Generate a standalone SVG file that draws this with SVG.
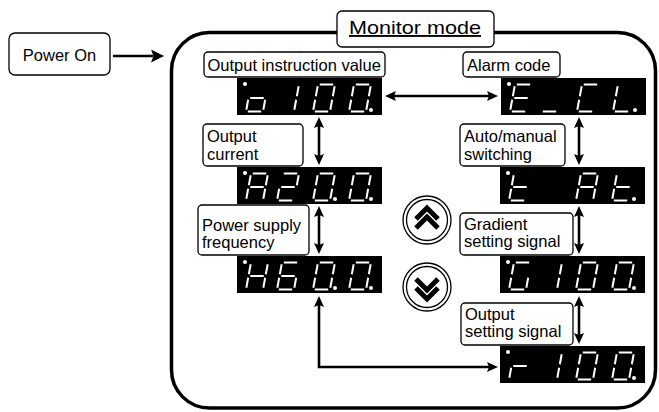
<svg xmlns="http://www.w3.org/2000/svg" xmlns:xlink="http://www.w3.org/1999/xlink" width="659" height="412" viewBox="0 0 659 412">
<style>
.box{fill:#fff;stroke:#000;stroke-width:1.3}
.lbl{font-family:"Liberation Sans",Arial,sans-serif;font-size:16.5px;fill:#000}
.disp{fill:#000}
.seg{fill:none;stroke:#fff;stroke-width:2}
.dot{fill:#fff}
.conn{fill:none;stroke:#000;stroke-width:2.6}
.ring{fill:#fff;stroke:#000;stroke-width:1.3}
.chev{fill:none;stroke:#000;stroke-width:5;stroke-linejoin:miter}
</style>
<defs>
<marker id="ah" viewBox="0 0 11 10" refX="2" refY="5" markerWidth="11" markerHeight="10" markerUnits="userSpaceOnUse" orient="auto-start-reverse">
<path d="M0,0 L11,5 L0,10 L2,5Z" fill="#000"/>
</marker>
<marker id="ahb" viewBox="0 0 13 13" refX="2" refY="6.5" markerWidth="13" markerHeight="13" markerUnits="userSpaceOnUse" orient="auto">
<path d="M0,0 L13,6.5 L0,13 L2.5,6.5Z" fill="#000"/>
</marker>
<path id="c-o" d="M19.17 15.3L17.33 25.2M1.8 27H15.2M2.17 15.3L0.33 25.2M4.3 13.5H17.7"/>
<path id="c-1" d="M21.67 1.8L19.83 11.7M19.17 15.3L17.33 25.2"/>
<path id="c-0" d="M6.8 0H20.2M21.67 1.8L19.83 11.7M19.17 15.3L17.33 25.2M1.8 27H15.2M2.17 15.3L0.33 25.2M4.67 1.8L2.83 11.7"/>
<path id="c-E" d="M6.8 0H20.2M1.8 27H15.2M2.17 15.3L0.33 25.2M4.67 1.8L2.83 11.7M4.3 13.5H17.7"/>
<path id="c-_" d="M1.8 27H15.2"/>
<path id="c-C" d="M6.8 0H20.2M1.8 27H15.2M2.17 15.3L0.33 25.2M4.67 1.8L2.83 11.7"/>
<path id="c-L" d="M1.8 27H15.2M2.17 15.3L0.33 25.2M4.67 1.8L2.83 11.7"/>
<path id="c-A" d="M6.8 0H20.2M21.67 1.8L19.83 11.7M19.17 15.3L17.33 25.2M2.17 15.3L0.33 25.2M4.67 1.8L2.83 11.7M4.3 13.5H17.7"/>
<path id="c-2" d="M6.8 0H20.2M21.67 1.8L19.83 11.7M4.3 13.5H17.7M2.17 15.3L0.33 25.2M1.8 27H15.2"/>
<path id="c-H" d="M21.67 1.8L19.83 11.7M19.17 15.3L17.33 25.2M2.17 15.3L0.33 25.2M4.67 1.8L2.83 11.7M4.3 13.5H17.7"/>
<path id="c-6" d="M6.8 0H20.2M19.17 15.3L17.33 25.2M1.8 27H15.2M2.17 15.3L0.33 25.2M4.67 1.8L2.83 11.7M4.3 13.5H17.7"/>
<path id="c-t" d="M1.8 27H15.2M2.17 15.3L0.33 25.2M4.67 1.8L2.83 11.7M4.3 13.5H17.7"/>
<path id="c-G" d="M6.8 0H20.2M19.17 15.3L17.33 25.2M1.8 27H15.2M2.17 15.3L0.33 25.2M4.67 1.8L2.83 11.7"/>
<path id="c-r" d="M2.17 15.3L0.33 25.2M4.3 13.5H17.7"/>
</defs>

<!-- monitor frame -->
<rect x="171.5" y="32.5" width="484" height="375.5" rx="38" fill="none" stroke="#000" stroke-width="3.5"/>

<g id="connectors">
<line class="conn" x1="113" y1="56" x2="153" y2="56" stroke-width="3.5" marker-end="url(#ahb)"/>
<line class="conn" x1="394" y1="96" x2="489" y2="96" marker-start="url(#ah)" marker-end="url(#ah)"/>
<line class="conn" x1="319" y1="126" x2="319" y2="156" marker-start="url(#ah)" marker-end="url(#ah)"/>
<line class="conn" x1="319" y1="215" x2="319" y2="245" marker-start="url(#ah)" marker-end="url(#ah)"/>
<line class="conn" x1="579" y1="126" x2="579" y2="156" marker-start="url(#ah)" marker-end="url(#ah)"/>
<line class="conn" x1="579" y1="215" x2="579" y2="245" marker-start="url(#ah)" marker-end="url(#ah)"/>
<line class="conn" x1="579" y1="305" x2="579" y2="335" marker-start="url(#ah)" marker-end="url(#ah)"/>
<path class="conn" d="M319 305V367H489" marker-start="url(#ah)" marker-end="url(#ah)"/>
</g>

<g id="power-on">
<rect class="box" x="9" y="33" width="101" height="42" rx="6"/>
<text class="lbl" x="59.5" y="61" text-anchor="middle">Power On</text>
</g>

<g id="monitor-mode">
<rect class="box" x="337" y="11" width="157" height="36" rx="5"/>
<text class="lbl" x="415" y="34" text-anchor="middle" style="font-size:19px" textLength="132" lengthAdjust="spacingAndGlyphs" text-decoration="underline">Monitor mode</text>
</g>

<g id="lbl-output-instruction">
<rect class="box" x="204" y="52" width="181" height="25" rx="4"/>
<text class="lbl" x="207.5" y="71">Output instruction value</text>
</g>
<g id="lbl-alarm">
<rect class="box" x="463" y="52" width="97" height="25" rx="4"/>
<text class="lbl" x="467" y="71">Alarm code</text>
</g>
<g id="lbl-output-current">
<rect class="box" x="203" y="124" width="100" height="42" rx="4"/>
<text class="lbl" x="207" y="142">Output</text>
<text class="lbl" x="207" y="160">current</text>
</g>
<g id="lbl-power-freq">
<rect class="box" x="198" y="205" width="111" height="50" rx="4"/>
<text class="lbl" x="202" y="231">Power supply</text>
<text class="lbl" x="202" y="248">frequency</text>
</g>
<g id="lbl-auto-manual">
<rect class="box" x="460" y="124" width="105" height="42" rx="4"/>
<text class="lbl" x="464" y="142">Auto/manual</text>
<text class="lbl" x="464" y="160">switching</text>
</g>
<g id="lbl-gradient">
<rect class="box" x="460" y="213" width="113" height="42" rx="4"/>
<text class="lbl" x="464" y="230">Gradient</text>
<text class="lbl" x="464" y="247">setting signal</text>
</g>
<g id="lbl-output-setting">
<rect class="box" x="461" y="303" width="112" height="42" rx="4"/>
<text class="lbl" x="465" y="320">Output</text>
<text class="lbl" x="465" y="337">setting signal</text>
</g>

<g id="disp-o100">
<rect class="disp" x="237" y="78" width="145" height="37"/>
<circle class="dot" cx="245" cy="84" r="2"/>
<g class="seg">
<use xlink:href="#c-o" href="#c-o" x="246" y="84.5"/>
<use xlink:href="#c-1" href="#c-1" x="277" y="84.5"/>
<use xlink:href="#c-0" href="#c-0" x="313" y="84.5"/>
<use xlink:href="#c-0" href="#c-0" x="349" y="84.5"/>
</g>
<circle class="dot" cx="371" cy="110" r="2"/>
</g>

<g id="disp-ecl">
<rect class="disp" x="501" y="78" width="145" height="37"/>
<circle class="dot" cx="509" cy="84" r="2"/>
<g class="seg">
<use xlink:href="#c-E" href="#c-E" x="510" y="84.5"/>
<use xlink:href="#c-_" href="#c-_" x="541" y="84.5"/>
<use xlink:href="#c-C" href="#c-C" x="577" y="84.5"/>
<use xlink:href="#c-L" href="#c-L" x="613" y="84.5"/>
</g>
<circle class="dot" cx="635" cy="110" r="2"/>
</g>

<g id="disp-a200">
<rect class="disp" x="237" y="167" width="145" height="37"/>
<circle class="dot" cx="245" cy="173" r="2"/>
<g class="seg">
<use xlink:href="#c-A" href="#c-A" x="246" y="173.5"/>
<use xlink:href="#c-2" href="#c-2" x="277" y="173.5"/>
<use xlink:href="#c-0" href="#c-0" x="313" y="173.5"/>
<use xlink:href="#c-0" href="#c-0" x="349" y="173.5"/>
</g>
<circle class="dot" cx="335" cy="199" r="2"/>
<circle class="dot" cx="371" cy="199" r="2"/>
</g>

<g id="disp-h600">
<rect class="disp" x="237" y="256" width="145" height="37"/>
<circle class="dot" cx="245" cy="262" r="2"/>
<g class="seg">
<use xlink:href="#c-H" href="#c-H" x="246" y="262.5"/>
<use xlink:href="#c-6" href="#c-6" x="277" y="262.5"/>
<use xlink:href="#c-0" href="#c-0" x="313" y="262.5"/>
<use xlink:href="#c-0" href="#c-0" x="349" y="262.5"/>
</g>
<circle class="dot" cx="335" cy="288" r="2"/>
<circle class="dot" cx="371" cy="288" r="2"/>
</g>

<g id="disp-tat">
<rect class="disp" x="500" y="167" width="145" height="37"/>
<circle class="dot" cx="508" cy="173" r="2"/>
<g class="seg">
<use xlink:href="#c-t" href="#c-t" x="509" y="173.5"/>
<use xlink:href="#c-A" href="#c-A" x="576" y="173.5"/>
<use xlink:href="#c-t" href="#c-t" x="612" y="173.5"/>
</g>
<circle class="dot" cx="634" cy="199" r="2"/>
</g>

<g id="disp-g100">
<rect class="disp" x="500" y="256" width="145" height="37"/>
<circle class="dot" cx="508" cy="262" r="2"/>
<g class="seg">
<use xlink:href="#c-G" href="#c-G" x="509" y="262.5"/>
<use xlink:href="#c-1" href="#c-1" x="540" y="262.5"/>
<use xlink:href="#c-0" href="#c-0" x="576" y="262.5"/>
<use xlink:href="#c-0" href="#c-0" x="612" y="262.5"/>
</g>
<circle class="dot" cx="634" cy="288" r="2"/>
</g>

<g id="disp-r100">
<rect class="disp" x="500" y="346" width="145" height="37"/>
<circle class="dot" cx="508" cy="352" r="2"/>
<g class="seg">
<use xlink:href="#c-r" href="#c-r" x="509" y="352.5"/>
<use xlink:href="#c-1" href="#c-1" x="540" y="352.5"/>
<use xlink:href="#c-0" href="#c-0" x="576" y="352.5"/>
<use xlink:href="#c-0" href="#c-0" x="612" y="352.5"/>
</g>
<circle class="dot" cx="634" cy="378" r="2"/>
</g>

<g id="btn-up">
<circle class="ring" cx="427" cy="220" r="24"/>
<circle class="ring" cx="427" cy="220" r="20.5"/>
<polyline class="chev" points="416,219 427,208 438,219"/>
<polyline class="chev" points="416,228 427,217 438,228"/>
</g>
<g id="btn-down">
<circle class="ring" cx="427" cy="287" r="24"/>
<circle class="ring" cx="427" cy="287" r="20.5"/>
<polyline class="chev" points="416,279 427,290 438,279"/>
<polyline class="chev" points="416,288 427,299 438,288"/>
</g>
</svg>
